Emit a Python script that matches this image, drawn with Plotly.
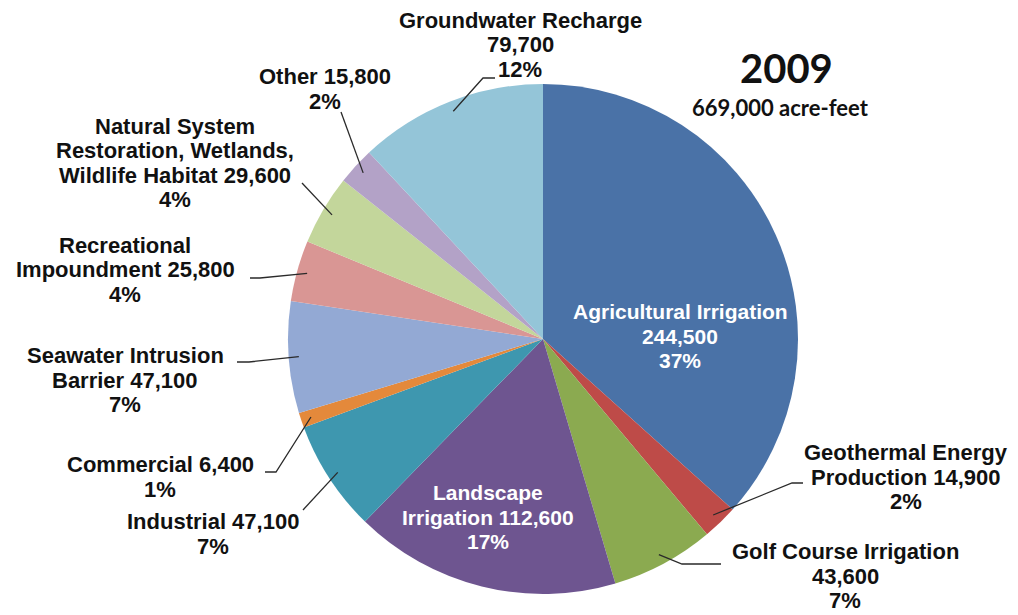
import math
import plotly.graph_objects as go

# ---- data ----
categories = [
    "Agricultural Irrigation", "Geothermal Energy Production", "Golf Course Irrigation",
    "Landscape Irrigation", "Industrial", "Commercial", "Seawater Intrusion Barrier",
    "Recreational Impoundment", "Natural System Restoration, Wetlands, Wildlife Habitat",
    "Other", "Groundwater Recharge",
]
values = [244500, 14900, 43600, 112600, 47100, 6400, 47100, 25800, 29600, 15800, 79700]
percents = ["37%", "2%", "7%", "17%", "7%", "1%", "7%", "4%", "4%", "2%", "12%"]
label_text = [
    "Agricultural Irrigation<br>244,500",
    "Geothermal Energy<br>Production 14,900",
    "Golf Course Irrigation<br>43,600",
    "Landscape<br>Irrigation 112,600",
    "Industrial 47,100",
    "Commercial 6,400",
    "Seawater Intrusion<br>Barrier 47,100",
    "Recreational<br>Impoundment 25,800",
    "Natural System<br>Restoration, Wetlands,<br>Wildlife Habitat 29,600",
    "Other 15,800",
    "Groundwater Recharge<br>79,700",
]
title_year = "2009"
title_total = "669,000 acre-feet"

# ---- styles ----
colors = ["#4A72A7", "#BE4B48", "#8BAA50", "#6E5590", "#3E97AF", "#E4893B",
          "#93A9D4", "#D99694", "#C3D69B", "#B3A2C7", "#94C5D8"]
PAGE_OFF = 8                      # default body margin of the html page
W, H = 1018 - PAGE_OFF, 615 - PAGE_OFF
CX, CY, R = 543, 339, 255
LINE = 24.5
FONT = "Liberation Sans, Arial, sans-serif"

def px(x):
    return (x - PAGE_OFF) / W

def py(y):
    return 1 - (y - PAGE_OFF) / H

# label layout (pixel centres in the window), leader line text-side points
label_pos = [
    (680, 336), (906, 477), (845, 576), (488, 517), (213, 534), (160, 477),
    (125, 380), (125, 270), (175, 163), (325, 89), (520, 45),
]
inside = [True, False, False, True, False, False, False, False, False, False, False]
leader_pts = [
    None,
    [(803, 483), (792, 483)],
    [(721, 564), (682, 564)],
    None,
    [(303, 510), (303, 510)],
    [(265, 472), (276, 472)],
    [(237, 362), (249, 362)],
    [(250, 278), (260, 278)],
    [(302, 183), (302, 183)],
    [(341, 112), (341, 112)],
    [(495, 78), (483, 78)],
]

fig = go.Figure()
fig.add_trace(go.Pie(
    labels=categories, values=values, sort=False, direction="clockwise", rotation=0,
    marker=dict(colors=colors, line=dict(width=0)),
    textinfo="none", hoverinfo="label+value+percent", showlegend=False,
    domain=dict(x=[px(CX - R), px(CX + R)], y=[py(CY + R), py(CY - R)]),
))

total = sum(values)
annotations = []
shapes = []
cum = 0.0
for i, v in enumerate(values):
    mid = (cum + v / 2) / total * 2 * math.pi
    cum += v
    x, y = label_pos[i]
    lines = (label_text[i] + "<br>" + percents[i]).split("<br>")
    n = len(lines)
    for k, ln in enumerate(lines):
        ly = y + (k - (n - 1) / 2) * LINE
        annotations.append(dict(
            x=px(x), y=py(ly), xref="paper", yref="paper", xanchor="center", yanchor="middle",
            text=ln, showarrow=False, align="center", borderpad=0,
            font=dict(family=FONT, size=21 if inside[i] else 22,
                      color="white" if inside[i] else "#111111", weight="bold"),
        ))
    if leader_pts[i]:
        (ax, ay), (bx, by) = leader_pts[i]
        ex = CX + 0.96 * R * math.sin(mid)
        ey = CY - 0.96 * R * math.cos(mid)
        path = f"M {px(ax)} {py(ay)} L {px(bx)} {py(by)} L {px(ex)} {py(ey)}"
        shapes.append(dict(type="path", path=path, xref="paper", yref="paper",
                           line=dict(color="#2a2a2a", width=1.3)))

annotations.append(dict(x=px(786), y=py(68), xref="paper", yref="paper", text=title_year,
                        showarrow=False, xanchor="center", yanchor="middle",
                        font=dict(family="Lato, sans-serif", size=40, color="#111111", weight="bold")))
annotations.append(dict(x=px(780), y=py(108), xref="paper", yref="paper", text=title_total,
                        showarrow=False, xanchor="center", yanchor="middle",
                        font=dict(family="Lato, sans-serif", size=22, color="#111111", weight="bold")))

fig.update_layout(
    width=W, height=H, margin=dict(l=0, r=0, t=0, b=0),
    paper_bgcolor="white", plot_bgcolor="white",
    annotations=annotations, shapes=shapes,
)
fig.write_html("out.html")
